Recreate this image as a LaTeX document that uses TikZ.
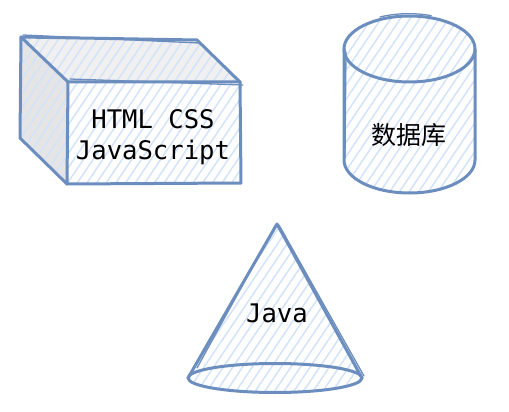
\documentclass[tikz,border=0pt]{standalone}
\usepackage{fontspec}
\newfontfamily\monofont{DejaVu Sans Mono}
\newfontfamily\cjk{Noto Sans CJK SC}
\usetikzlibrary{patterns.meta}
\definecolor{edge}{HTML}{6C8EBF}
\definecolor{hatch}{HTML}{D3E3FA}
\begin{document}
\begin{tikzpicture}[x=1pt,y=-1pt,
  outline/.style={draw=edge,line width=3pt,line join=round,line cap=round},
  thin/.style={draw=edge,line width=1.3pt,line cap=round},
  hatchfill/.style={pattern={Lines[angle=56,distance=8pt,line width=1.5pt]},pattern color=hatch},
  lbl/.style={font=\monofont\fontsize{25.6}{31}\selectfont,align=center,text=black,inner sep=0pt}]
\useasboundingbox[fill=white] (0,0) rectangle (509,412);
% ---------- box ----------
\coordinate (fa) at (68,82);
\coordinate (fb) at (240,82);
\coordinate (fc) at (241,183);
\coordinate (fd) at (67,184);
\coordinate (ba) at (21,37);
\coordinate (bb) at (197,40);
\coordinate (bd) at (20,138);
\fill[black!6] (ba) -- (bb) -- (fb) -- (fa) -- cycle;
\fill[black!10] (ba) -- (fa) -- (fd) -- (bd) -- cycle;
\fill[hatchfill] (ba) -- (bb) -- (fb) -- (fc) -- (fd) -- (bd) -- cycle;
\draw[outline] (ba) -- (bb) -- (fb) -- (fc) -- (fd) -- (bd) -- cycle;
\draw[outline] (ba) -- (fa) -- (fb);
\draw[outline] (fa) -- (fd);
\draw[thin] (23,35) -- (199,43);
\draw[thin] (70,79) -- (243,85);
\node[lbl] (web) at (153,137) {HTML CSS\\JavaScript};
% ---------- cylinder ----------
\fill[hatchfill] (344,49) -- (344,160) arc[start angle=180,end angle=360,x radius=65.5pt,y radius=33pt] -- (475,49) arc[start angle=0,end angle=180,x radius=65.5pt,y radius=33pt] -- cycle;
\draw[outline] (409.5,49) ellipse[x radius=65.5pt,y radius=33pt];
\draw[outline] (344,49) -- (344,160) arc[start angle=180,end angle=360,x radius=65.5pt,y radius=33pt] -- (475,49);
\draw[thin] (380,17) arc[start angle=116,end angle=70,x radius=65.5pt,y radius=33pt];
\draw[thin] (346,52) -- (345,158);
\node[font=\cjk\fontsize{25}{30}\selectfont,inner sep=0pt] (db) at (409,135) {数据库};
% ---------- cone ----------
\coordinate (apex) at (277,224);
\coordinate (cl) at (188,378);
\coordinate (cr) at (362,378);
\fill[hatchfill] (apex) -- (cl) arc[start angle=180,end angle=360,x radius=87pt,y radius=14.5pt] -- cycle;
\draw[outline] (apex) -- (cl);
\draw[outline] (apex) -- (cr);
\draw[outline] (275,378) ellipse[x radius=87pt,y radius=14.5pt];
\draw[thin] (279,225) -- (364,376);
\draw[thin] (275,226) -- (197,368);
\node[lbl] (java) at (277,313) {Java};
\end{tikzpicture}
\end{document}
